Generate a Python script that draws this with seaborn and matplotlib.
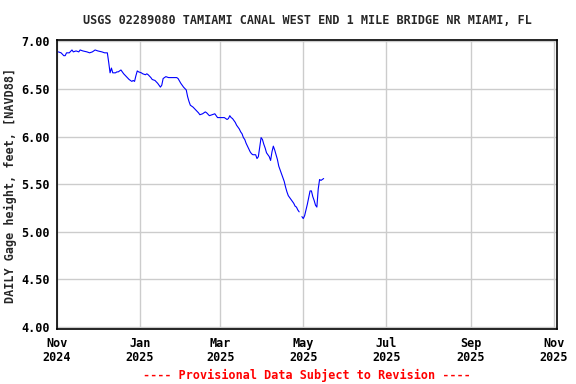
import numpy as np
import pandas as pd
import matplotlib
matplotlib.use("Agg")
import matplotlib.pyplot as plt
import matplotlib.dates as mdates
import seaborn as sns

# days after 2024-11-01 and gage height (ft, NAVD88)
day_offsets = [1, 3, 5, 6, 7, 9, 11, 12, 14, 16, 17, 19, 22, 24, 26, 28, 30, 33, 35, 37,
               38, 39, 40, 41, 42, 43, 44, 45, 47, 49, 51, 53, 55, 56, 57, 58, 59, 60, 62, 63,
               65, 66, 67, 69, 70, 72, 74, 76, 77, 78, 80, 82, 85, 88, 89, 91, 93, 95, 96, 97,
               98, 100, 102, 104, 105, 107, 109, 110, 112, 114, 116, 118, 120, 123, 125, 126, 127, 128, 129, 130,
               131, 132, 133, 134, 135, 136, 137, 138, 139, 140, 141, 142, 143, 144, 146, 147, 148, 149, 150, 151,
               152, 153, 154, 155, 156, 157, 158, 159, 160, 161, 162, 163, 164, 165, 166, 167, 168, 169, 170, 171,
               172, 173, 174, 175, 176, 177, 178,
               180, 181, 182, 183, 184, 185, 186, 187, 188, 189, 190, 191, 192, 193, 194, 195, 196]
gage_height = [6.89, 6.88, 6.85, 6.85, 6.88, 6.88, 6.91, 6.89, 6.90, 6.89, 6.91, 6.90, 6.89, 6.88, 6.89, 6.91, 6.90, 6.89, 6.88, 6.88,
               6.78, 6.67, 6.72, 6.67, 6.67, 6.67, 6.68, 6.68, 6.70, 6.66, 6.63, 6.60, 6.58, 6.59, 6.58, 6.64, 6.69, 6.68, 6.67, 6.66,
               6.65, 6.66, 6.65, 6.62, 6.60, 6.59, 6.56, 6.52, 6.54, 6.61, 6.63, 6.62, 6.62, 6.62, 6.61, 6.56, 6.52, 6.49, 6.42, 6.37,
               6.33, 6.31, 6.28, 6.25, 6.23, 6.24, 6.26, 6.25, 6.22, 6.23, 6.24, 6.20, 6.20, 6.20, 6.18, 6.19, 6.22, 6.20, 6.19, 6.17,
               6.15, 6.12, 6.10, 6.08, 6.05, 6.03, 5.99, 5.97, 5.93, 5.90, 5.87, 5.84, 5.82, 5.81, 5.81, 5.77, 5.79, 5.89, 5.99, 5.97,
               5.92, 5.88, 5.83, 5.81, 5.79, 5.75, 5.84, 5.90, 5.86, 5.81, 5.76, 5.69, 5.65, 5.61, 5.57, 5.53, 5.47, 5.42, 5.38, 5.36,
               5.34, 5.32, 5.30, 5.27, 5.26, 5.23, 5.21,
               5.16, 5.14, 5.17, 5.23, 5.29, 5.36, 5.43, 5.43, 5.37, 5.33, 5.28, 5.26, 5.45, 5.55, 5.54, 5.55, 5.56]
# a missing day splits the record in two
segment = [0] * 127 + [1] * 17

y_ticks = [4.0, 4.5, 5.0, 5.5, 6.0, 6.5, 7.0]

start = pd.Timestamp("2024-11-01")
df = pd.DataFrame({
    "date": start + pd.to_timedelta(day_offsets, unit="D"),
    "value": gage_height,
    "segment": segment,
})

sns.set_theme(style="whitegrid")
plt.rcParams["font.family"] = ["DejaVu Sans Mono", "DejaVu Sans"]
plt.rcParams["font.weight"] = "bold"

fig = plt.figure(figsize=(5.76, 3.84), dpi=100)
ax = fig.add_axes([57 / 576, 1 - 329 / 384, 500 / 576, 289.5 / 384])

sns.lineplot(data=df, x="date", y="value", units="segment", estimator=None,
             color="#0000FF", linewidth=0.8, ax=ax)

ax.set_xlim(pd.Timestamp("2024-11-01"), pd.Timestamp("2025-11-03 12:00"))
ax.set_ylim(3.98, 7.02)
ax.set_yticks(y_ticks)
ax.yaxis.set_major_formatter(matplotlib.ticker.FormatStrFormatter("%.2f"))
ax.xaxis.set_major_locator(mdates.MonthLocator(bymonth=[1, 3, 5, 7, 9, 11]))
ax.xaxis.set_major_formatter(mdates.DateFormatter("%b\n%Y"))

ax.grid(True, color="#CCCCCC", linewidth=1.0)
ax.tick_params(axis="both", length=0, labelsize=8.5, colors="black")
ax.tick_params(axis="y", pad=5)
ax.tick_params(axis="x", pad=6)
for lbl in ax.get_xticklabels():
    lbl.set_linespacing(1.05)
for s in ax.spines.values():
    s.set_visible(True)
    s.set_color("black")
    s.set_linewidth(1.2)

ax.set_xlabel("")
ax.set_ylabel("")
fig.text(0.019, 1 - 185 / 384, "DAILY Gage height, feet, [NAVD88]", rotation=90,
         ha="center", va="center", fontsize=8.5, fontweight="bold")
fig.text(307 / 576, 1 - 20 / 384, "USGS 02289080 TAMIAMI CANAL WEST END 1 MILE BRIDGE NR MIAMI, FL",
         ha="center", va="center", fontsize=8.5, fontweight="bold")
fig.text(307 / 576, 1 - 375 / 384, "---- Provisional Data Subject to Revision ----",
         ha="center", va="center", fontsize=8.5, fontweight="bold", color="#FF0000")

fig.savefig("out.png", dpi=100)
